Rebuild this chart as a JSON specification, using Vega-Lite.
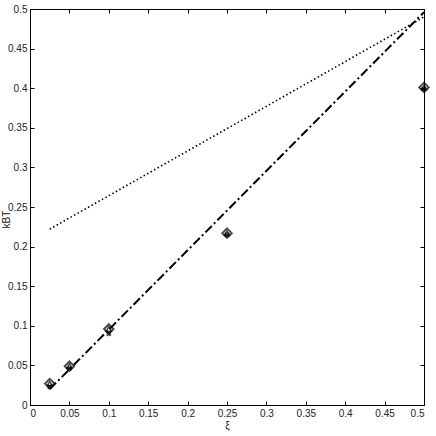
{
  "$schema": "https://vega.github.io/schema/vega-lite/v6.json",
  "autosize": "none",
  "padding": {"left": 30, "top": 9, "right": 12, "bottom": 31},
  "width": 394,
  "height": 396,
  "config": {
    "view": {"stroke": "black", "strokeWidth": 1},
    "font": "Liberation Sans",
    "axis": {
      "grid": false,
      "domainColor": "black",
      "tickColor": "black",
      "labelColor": "#222",
      "labelFont": "Liberation Sans",
      "labelFontSize": 10,
      "titleFont": "Liberation Sans",
      "titleFontSize": 10,
      "titleFontWeight": "normal",
      "titleColor": "#222",
      "tickSize": -4,
      "labelPadding": 7
    }
  },
  "datasets": {
    "lines": [
      {"xi": 0.025, "kT": 0.222, "model": "dotted"},
      {"xi": 0.5, "kT": 0.49, "model": "dotted"},
      {"xi": 0.025, "kT": 0.02, "model": "dashdot"},
      {"xi": 0.5, "kT": 0.496, "model": "dashdot"}
    ],
    "pts": [
      {"xi": 0.025, "kT": 0.027, "kT2": 0.023},
      {"xi": 0.05, "kT": 0.049, "kT2": 0.046},
      {"xi": 0.1, "kT": 0.096, "kT2": 0.09},
      {"xi": 0.25, "kT": 0.217, "kT2": 0.215},
      {"xi": 0.5, "kT": 0.401, "kT2": 0.399}
    ]
  },
  "layer": [
    {
      "data": {"name": "lines"},
      "transform": [{"filter": "datum.model == 'dotted'"}],
      "mark": {"type": "line", "color": "black", "strokeWidth": 1.6, "strokeDash": [1.5, 2.5]},
      "encoding": {
        "x": {"field": "xi", "type": "quantitative", "scale": {"domain": [0, 0.5], "nice": false},
          "axis": {"orient": "bottom", "title": "ξ", "values": [0,0.05,0.1,0.15,0.2,0.25,0.3,0.35,0.4,0.45,0.5], "labelExpr": "datum.value == 0 ? '0' : format(datum.value, '~g')", "titlePadding": 2}},
        "y": {"field": "kT", "type": "quantitative", "scale": {"domain": [0, 0.5], "nice": false},
          "axis": {"orient": "left", "title": "kBT", "titleX": -24, "titleY": 210, "titleBaseline": "middle", "values": [0,0.05,0.1,0.15,0.2,0.25,0.3,0.35,0.4,0.45,0.5], "labelExpr": "datum.value == 0 ? '0' : format(datum.value, '~g')"}}
      }
    },
    {
      "data": {"name": "lines"},
      "transform": [{"filter": "datum.model == 'dashdot'"}],
      "mark": {"type": "line", "color": "black", "strokeWidth": 2, "strokeDash": [9, 3, 2, 3]},
      "encoding": {
        "x": {"field": "xi", "type": "quantitative", "axis": {"orient": "top", "labels": false, "title": null, "values": [0,0.05,0.1,0.15,0.2,0.25,0.3,0.35,0.4,0.45,0.5]}},
        "y": {"field": "kT", "type": "quantitative", "axis": {"orient": "right", "labels": false, "title": null, "values": [0,0.05,0.1,0.15,0.2,0.25,0.3,0.35,0.4,0.45,0.5]}}
      }
    },
    {
      "data": {"name": "pts"},
      "mark": {"type": "point", "shape": "diamond", "filled": false, "color": "black", "strokeWidth": 2, "size": 90, "clip": false},
      "encoding": {
        "x": {"field": "xi", "type": "quantitative", "axis": null},
        "y": {"field": "kT", "type": "quantitative", "axis": null}
      }
    },
    {
      "data": {"name": "pts"},
      "mark": {"type": "point", "shape": "triangle-up", "filled": false, "color": "black", "strokeWidth": 1.5, "size": 25, "clip": false},
      "encoding": {
        "x": {"field": "xi", "type": "quantitative", "axis": null},
        "y": {"field": "kT", "type": "quantitative", "axis": null}
      }
    },
    {
      "data": {"name": "pts"},
      "mark": {"type": "point", "shape": "cross", "filled": true, "color": "black", "size": 30, "angle": 45, "clip": false},
      "encoding": {
        "x": {"field": "xi", "type": "quantitative", "axis": null},
        "y": {"field": "kT2", "type": "quantitative", "axis": null}
      }
    }
  ],
  "resolve": {"axis": {"x": "independent", "y": "independent"}}
}
